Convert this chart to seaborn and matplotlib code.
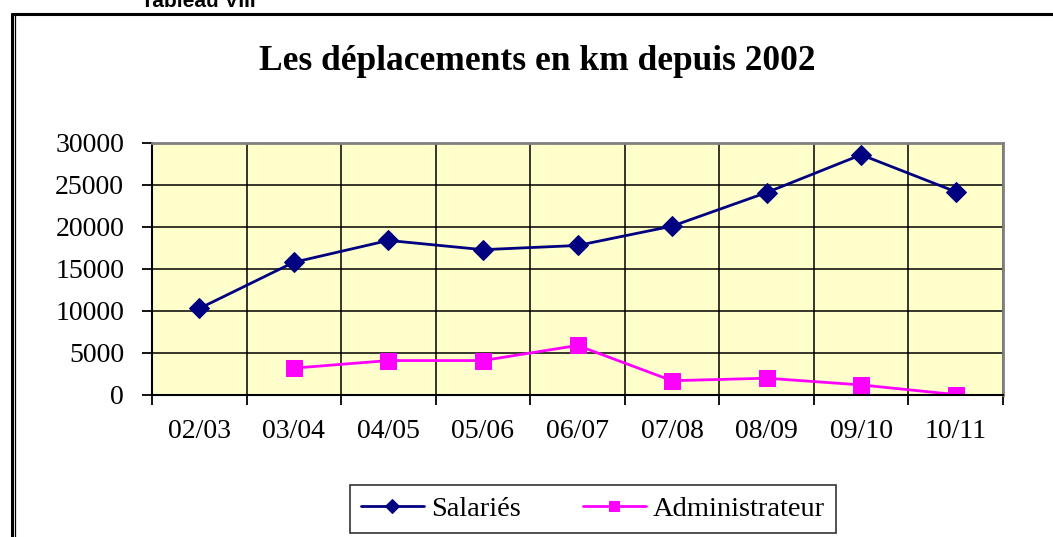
import numpy as np
import seaborn as sns
import matplotlib.pyplot as plt
from matplotlib.lines import Line2D
from matplotlib.ticker import FixedLocator

sns.set_theme(style="white")
plt.rcParams["font.family"] = ["Liberation Serif", "DejaVu Serif"]
plt.rcParams["text.color"] = "black"
plt.rcParams["xtick.color"] = "black"
plt.rcParams["ytick.color"] = "black"

periods = ["02/03", "03/04", "04/05", "05/06", "06/07", "07/08", "08/09", "09/10", "10/11"]
salaries = [10300, 15800, 18400, 17300, 17800, 20100, 24100, 28600, 24200]
admin = [np.nan, 3200, 4100, 4100, 5900, 1700, 2000, 1200, 50]
yticks = [0, 5000, 10000, 15000, 20000, 25000, 30000]

W, H = 1053, 537
fig = plt.figure(figsize=(W / 100, H / 100), dpi=100)
fig.patch.set_facecolor("white")

# outer frame of the pasted chart (cropped on right and bottom)
fig.add_artist(Line2D([11.5 / W, 1], [1 - 14 / H, 1 - 14 / H], color="black", lw=2.2))
fig.add_artist(Line2D([11.5 / W, 11.5 / W], [0, 1 - 14 / H], color="black", lw=2.2))
fig.add_artist(Line2D([14.5 / W, 14.5 / W], [0, 1 - 15 / H], color="black", lw=0.9))

fig.text(198 / W, 1 - 7 / H, "Tableau VIII", family="Liberation Sans", weight="bold",
         fontsize=15, ha="center", va="baseline")

ax = fig.add_axes([152 / W, 1 - 395 / H, 851 / W, 252 / H])
ax.set_facecolor("#FFFFCC")

sns.lineplot(x=periods, y=salaries, ax=ax, color="#000080", lw=2, marker="D",
             markersize=10, markeredgecolor="#000080", label="Salariés")
sns.lineplot(x=periods, y=admin, ax=ax, color="#FF00FF", lw=2, marker="s",
             markersize=12, markeredgecolor="#FF00FF", label="Administrateur")

ax.set_xlim(-0.5, len(periods) - 0.5)
ax.set_ylim(0, 30000)
ax.set_yticks(yticks)
ax.set_yticklabels([str(v) for v in yticks])
ax.set_xticks(range(len(periods)))
ax.set_xticklabels(periods)
ax.xaxis.set_minor_locator(FixedLocator(np.arange(-0.5, len(periods), 1)))

ax.grid(axis="y", color="black", lw=1.1)
ax.grid(axis="x", which="minor", color="black", lw=1.1)
ax.set_axisbelow(True)

ax.tick_params(axis="x", which="major", length=0, pad=17, labelsize=20)
ax.tick_params(axis="x", which="minor", length=7, width=1.3, color="black", direction="out", bottom=True)
ax.tick_params(axis="y", length=7, width=1.3, color="black", direction="out", left=True,
               pad=13, labelsize=20)

for s in ["left", "bottom"]:
    ax.spines[s].set_color("black")
    ax.spines[s].set_linewidth(1.5)
for s in ["top", "right"]:
    ax.spines[s].set_color("#808080")
    ax.spines[s].set_linewidth(2)

fig.text(537 / W, 1 - 70 / H, "Les déplacements en km depuis 2002", fontsize=25.5,
         weight="bold", ha="center", va="baseline")

leg = ax.legend(loc="center", bbox_to_anchor=(593 / W, 1 - 509 / H),
                bbox_transform=fig.transFigure, ncol=2, frameon=True, fancybox=False,
                fontsize=20.5, handlelength=2.2, columnspacing=2.2, borderpad=0.4,
                handletextpad=0.25, borderaxespad=0)
leg.get_frame().set_edgecolor("black")
leg.get_frame().set_linewidth(1.2)
for h in leg.legend_handles:
    h.set_markersize(7)

fig.savefig("out.png", dpi=100)
